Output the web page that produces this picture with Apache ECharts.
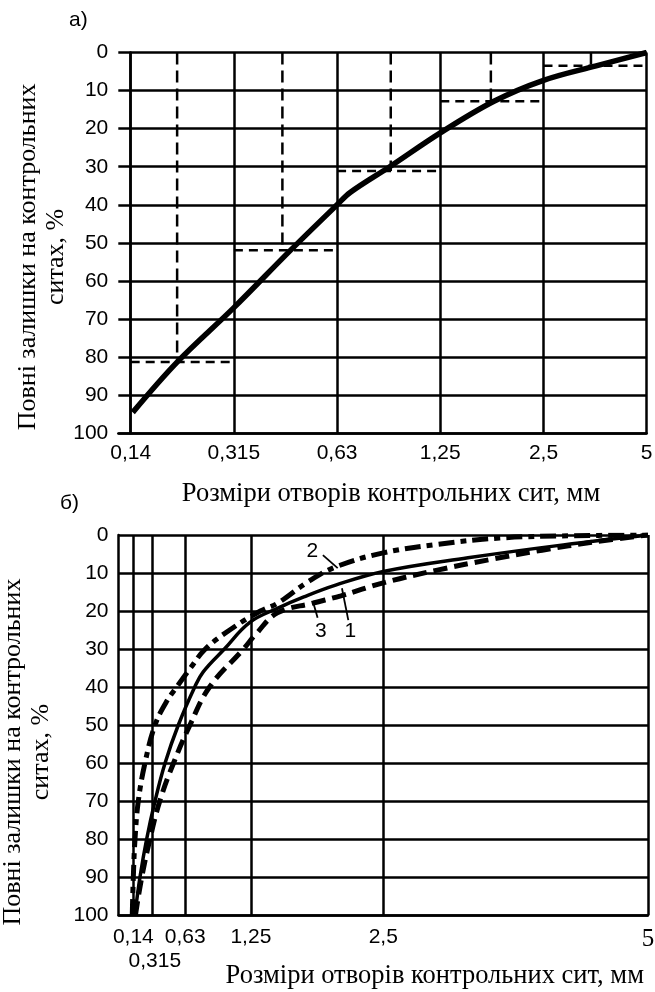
<!DOCTYPE html>
<html><head><meta charset="utf-8">
<script src="https://cdn.jsdelivr.net/npm/echarts@6/dist/echarts.min.js"></script>
<style>html,body{margin:0;padding:0;background:#fff}#c{width:655px;height:992px}</style>
</head><body><div id="c"></div>
<script>
// ---------- Chart а) ----------
const sieveLabelsA = ['0,14', '0,315', '0,63', '1,25', '2,5', '5'];
const sievePosA = [0, 1, 2, 3, 4, 5];           // equally spaced sieve positions
const curveA = [[0.02, 94.5], [0.45, 81.3], [1.0, 67], [1.55, 51.9], [2.0, 40], [2.13, 36.7],
                [2.51, 30], [3.0, 21.1], [3.52, 12.8], [4.0, 7.3], [4.51, 3.5], [5, 0]];
const stepResidue = [81.3, 51.9, 31.1, 12.8, 3.5];
const stepMid = [0.45, 1.47, 2.52, 3.49, 4.46];
// ---------- Chart б) ----------
const sieveSizesB = [0.14, 0.315, 0.63, 1.25, 2.5, 5];
const sieveLabelsB = ['0,14', '0,315', '0,63', '1,25', '2,5', '5'];
const curve1 = [[0.155, 100], [0.203, 90], [0.266, 80], [0.345, 70], [0.44, 60], [0.565, 50], [0.72, 40],
                [0.8, 36], [1.0, 30], [1.24, 23], [1.5, 19.3], [1.75, 16.3], [2.05, 13.2], [2.5, 9.6],
                [3.3, 6], [4.2, 2.6], [5, 0]];
const curve2 = [[0.13, 100], [0.14, 90], [0.156, 80], [0.187, 70], [0.25, 60], [0.345, 50], [0.45, 44],
                [0.55, 40], [0.68, 35], [0.82, 30], [1.05, 25], [1.34, 20], [1.5, 18], [1.78, 12.5],
                [2.05, 8.4], [2.5, 4.7], [3.0, 2.5], [3.6, 0.8], [4.3, 0.2], [5, 0]];
const curve3 = [[0.16, 100], [0.22, 90], [0.297, 80], [0.39, 70], [0.52, 60], [0.675, 50], [0.86, 40],
                [1.18, 30], [1.3, 26], [1.5, 20.5], [1.84, 17.9], [2.1, 16], [2.5, 12.6], [3.0, 9.3],
                [3.5, 6.5], [4.0, 4.0], [4.5, 1.8], [5, 0]];
const curveNames = ['1', '2', '3'];
const yTicks = [0, 10, 20, 30, 40, 50, 60, 70, 80, 90, 100];

const SANS = "'Liberation Sans', Arial, sans-serif";
const SERIF = "'Liberation Serif', 'Times New Roman', serif";
const BLK = '#000';
const yName = 'Повні залишки на контрольних\nситах, %';
const xName = 'Розміри отворів контрольних сит, мм';

function yAxisCfg(gridIndex, gap, shift) {
  return {
    type: 'value', gridIndex, inverse: true, min: yTicks[0], max: yTicks[yTicks.length - 1], interval: 10,
    axisLine: { show: true, lineStyle: { color: BLK, width: 2.5 } },
    axisTick: { show: false },
    splitLine: { show: true, lineStyle: { color: BLK, width: 2.5 } },
    axisLabel: { color: BLK, fontFamily: SANS, fontSize: 21, margin: 10 },
    name: yName, nameLocation: 'middle', nameRotate: 90, nameGap: gap, nameMoveOverlap: false,
    nameTextStyle: { color: BLK, fontFamily: SERIF, fontSize: 26, lineHeight: 28, align: 'center', padding: [0, shift * 2, 0, 0] }
  };
}

const series = [];
series.push({
  type: 'line', xAxisIndex: 0, yAxisIndex: 0, data: curveA, smooth: 0.35, showSymbol: false,
  lineStyle: { color: BLK, width: 5.5 }, z: 5
});
stepResidue.forEach((r, i) => {
  series.push({
    type: 'line', xAxisIndex: 0, yAxisIndex: 0, showSymbol: false,
    data: [[sievePosA[i], r], [sievePosA[i + 1], r]],
    lineStyle: { color: BLK, width: 2.5, type: [9, 6] }, z: 3
  });
  series.push({
    type: 'line', xAxisIndex: 0, yAxisIndex: 0, showSymbol: false,
    data: [[stepMid[i], 0], [stepMid[i], r]],
    lineStyle: { color: BLK, width: 2.5, type: [12, 6] }, z: 3
  });
});
series.push({
  name: curveNames[0], type: 'line', xAxisIndex: 1, yAxisIndex: 1, data: curve1, smooth: 0.4, showSymbol: false,
  lineStyle: { color: BLK, width: 3.5 }, z: 5,
  markLine: {
    silent: true, symbol: 'none', label: { show: false },
    lineStyle: { color: BLK, width: 1.8, type: 'solid' },
    data: [
      [{ coord: [1.93, 5.3] }, { coord: [2.07, 8.7] }],
      [{ coord: [1.84, 17.9] }, { coord: [1.88, 21.8] }],
      [{ coord: [2.11, 14] }, { coord: [2.17, 22.4] }]
    ]
  },
  markPoint: {
    silent: true, symbol: 'rect', symbolSize: 1, itemStyle: { color: 'rgba(0,0,0,0)' },
    label: { show: true, position: 'inside', formatter: '{b}', color: BLK, fontFamily: SANS, fontSize: 21 },
    data: [
      { name: curveNames[1], coord: [1.83, 4.2] },
      { name: curveNames[2], coord: [1.91, 25.3] },
      { name: curveNames[0], coord: [2.19, 25.3] }
    ]
  }
});
series.push({
  name: curveNames[1], type: 'line', xAxisIndex: 1, yAxisIndex: 1, data: curve2, smooth: 0.4, showSymbol: false,
  lineStyle: { color: BLK, width: 5, type: [16, 6, 6, 6] }, z: 4
});
series.push({
  name: curveNames[2], type: 'line', xAxisIndex: 1, yAxisIndex: 1, data: curve3, smooth: 0.4, showSymbol: false,
  lineStyle: { color: BLK, width: 5, type: [14, 7] }, z: 4
});

const chart = echarts.init(document.getElementById('c'), null, { renderer: 'canvas' });
chart.setOption({
  animation: false,
  backgroundColor: '#fff',
  title: [
    { text: 'а)', left: 69, top: 10, padding: 0, textStyle: { fontFamily: SANS, fontSize: 21, fontWeight: 'normal', color: BLK } },
    { text: 'б)', left: 60, top: 493, padding: 0, textStyle: { fontFamily: SANS, fontSize: 21, fontWeight: 'normal', color: BLK } }
  ],
  grid: [
    { left: 118.3, top: 52.5, right: 8.3, height: 380.8, containLabel: false, outerBoundsMode: 'none' },
    { left: 118.5, top: 535, right: 7, height: 380, containLabel: false, outerBoundsMode: 'none' }
  ],
  xAxis: [
    {
      type: 'value', gridIndex: 0, min: -0.12, max: 5,
      axisLine: { show: true, onZero: false, lineStyle: { color: BLK, width: 2.5 } },
      axisTick: { show: false, customValues: sievePosA },
      splitLine: { show: true, lineStyle: { color: BLK, width: 2.5 } },
      axisLabel: { customValues: sievePosA, color: BLK, fontFamily: SANS, fontSize: 21, margin: 9,
                   formatter: v => sieveLabelsA[sievePosA.indexOf(Math.round(v))] },
      name: xName, nameLocation: 'middle', nameGap: 47, nameMoveOverlap: false,
      nameTextStyle: { color: BLK, fontFamily: SERIF, fontSize: 26.5, padding: [0, 0, 0, 17] }
    },
    {
      type: 'value', gridIndex: 1, min: 0, max: 5,
      axisLine: { show: true, onZero: false, lineStyle: { color: BLK, width: 2.5 } },
      axisTick: { show: false, customValues: sieveSizesB },
      splitLine: { show: true, lineStyle: { color: BLK, width: 2.5 } },
      axisLabel: {
        customValues: sieveSizesB, color: BLK, fontFamily: SANS, fontSize: 21, margin: 12,
        formatter: v => {
          const i = sieveSizesB.findIndex(s => Math.abs(s - v) < 1e-6);
          const t = sieveLabelsB[i];
          if (i === 1) return '{low|' + t + '}';
          if (i === sieveSizesB.length - 1) return '{big|' + t + '}';
          return t;
        },
        rich: {
          low: { fontFamily: SANS, fontSize: 21, color: BLK, padding: [24, 0, 0, 6] },
          big: { fontFamily: SERIF, fontSize: 25, color: BLK }
        }
      },
      name: xName, nameLocation: 'middle', nameGap: 48, nameMoveOverlap: false,
      nameTextStyle: { color: BLK, fontFamily: SERIF, fontSize: 26.5, padding: [0, 0, 0, 103] }
    }
  ],
  yAxis: [yAxisCfg(0, 48, 14), yAxisCfg(1, 63, 27)],
  series
});
</script></body></html>
